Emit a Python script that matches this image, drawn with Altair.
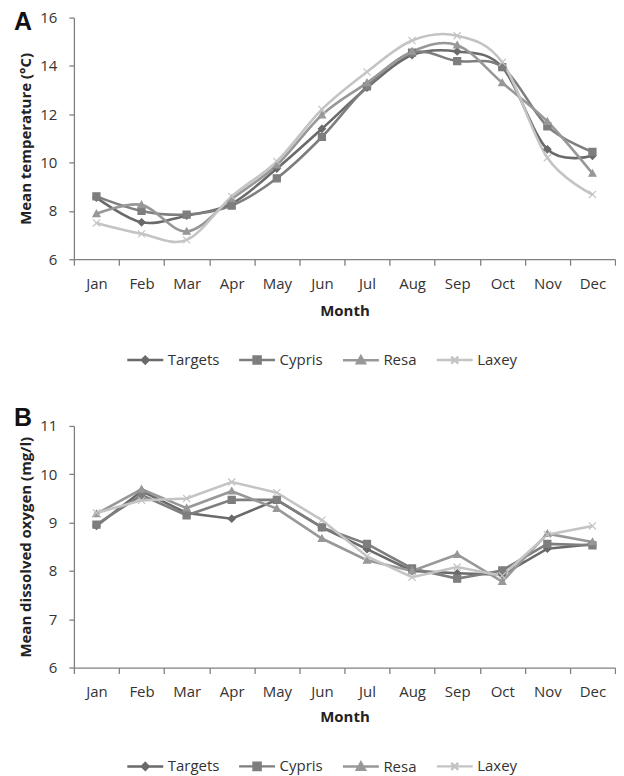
import altair as alt
import pandas as pd

months = ["Jan", "Feb", "Mar", "Apr", "May", "Jun", "Jul", "Aug", "Sep", "Oct", "Nov", "Dec"]
series = ["Targets", "Cypris", "Resa", "Laxey"]

# Panel A: mean temperature (°C)
temp_targets = [8.55, 7.53, 7.80, 8.30, 9.75, 11.40, 13.10, 14.45, 14.60, 13.95, 10.55, 10.28]
temp_cypris = [8.60, 8.00, 7.85, 8.22, 9.35, 11.06, 13.15, 14.55, 14.20, 13.95, 11.50, 10.44]
temp_resa = [7.88, 8.25, 7.15, 8.50, 9.90, 11.97, 13.30, 14.60, 14.86, 13.30, 11.70, 9.55]
temp_laxey = [7.50, 7.05, 6.80, 8.60, 10.05, 12.20, 13.75, 15.05, 15.25, 14.15, 10.20, 8.68]

# Panel B: mean dissolved oxygen (mg/l)
oxy_targets = [8.93, 9.65, 9.20, 9.08, 9.47, 8.90, 8.45, 8.00, 7.95, 7.92, 8.46, 8.55]
oxy_cypris = [8.96, 9.57, 9.15, 9.47, 9.47, 8.90, 8.56, 8.05, 7.84, 8.01, 8.56, 8.53]
oxy_resa = [9.18, 9.69, 9.30, 9.65, 9.29, 8.67, 8.22, 8.00, 8.34, 7.78, 8.77, 8.60]
oxy_laxey = [9.20, 9.46, 9.50, 9.84, 9.62, 9.05, 8.30, 7.87, 8.08, 7.90, 8.75, 8.93]

colors = ["#6a6a6a", "#7e7e7e", "#989898", "#c4c4c4"]
marker_paths = [
    "M0,-1L1,0L0,1L-1,0Z",
    "M-1,-1H1V1H-1Z",
    "M0,-1L1,0.8L-1,0.8Z",
    "M-1,-1L1,1M-1,1L1,-1",
]
legend_paths = [
    "M-2.25,0L2.25,0M0,-0.42L0.42,0L0,0.42L-0.42,0Z",
    "M-2.25,0L2.25,0M-0.44,-0.44H0.44V0.44H-0.44Z",
    "M-2.25,0L2.25,0M0,-0.5L0.5,0.38L-0.5,0.38Z",
    "M-2.25,0L2.25,0M-0.44,-0.44L0.44,0.44M-0.44,0.44L0.44,-0.44",
]

FONT = "Open Sans"
W, H = 542, 242


def make_df(vals):
    rows = []
    for s, v in zip(series, vals):
        for i, val in enumerate(v):
            rows.append({"series": s, "month": months[i], "idx": i, "value": val})
    return pd.DataFrame(rows)


label_arr = "[" + ",".join(f"'{m}'" for m in months) + ",'']"


def panel(df, letter, letter_y, ytitle, ydomain, yvalues, interp, legend_y, title_pad):
    x_enc = alt.X(
        "idx:Q",
        scale=alt.Scale(domain=[-0.5, 11.5], nice=False, zero=False),
        axis=alt.Axis(
            values=[i - 0.5 for i in range(13)],
            labelExpr=f"{label_arr}[round(datum.value + 0.5)]",
            labelOffset={"condition": {"test": "datum.value > 11", "value": 0}, "value": W / 24},
            labelOverlap=False,
            labelFlush=False,
            title="Month",
            grid=False,
            tickSize=6,
            labelPadding=11,
            titlePadding=title_pad,
        ),
    )
    y_enc = alt.Y(
        "value:Q",
        scale=alt.Scale(domain=ydomain, nice=False, zero=False),
        axis=alt.Axis(
            values=yvalues,
            title=ytitle,
            grid=False,
            tickSize=5,
            labelPadding=12,
            titlePadding=6,
        ),
    )
    base = alt.Chart(df).encode(x=x_enc, y=y_enc)
    cscale = alt.Scale(domain=series, range=colors)
    lines = base.mark_line(interpolate=interp, strokeWidth=2.6).encode(
        color=alt.Color("series:N", scale=cscale, legend=None),
        detail="series:N",
    )
    pts = base.mark_point(filled=True, size=50, strokeWidth=1.2, opacity=1).encode(
        fill=alt.Fill("series:N", scale=cscale, legend=None),
        stroke=alt.Stroke("series:N", scale=cscale, legend=None),
        shape=alt.Shape("series:N", scale=alt.Scale(domain=series, range=marker_paths), legend=None),
    )
    leg = alt.Legend(
        title=None,
        orient="none",
        legendX=62,
        legendY=legend_y,
        direction="horizontal",
        columns=4,
        symbolSize=256,
        symbolStrokeWidth=2.5,
        labelFont=FONT,
        labelFontSize=15,
        labelColor="#333333",
        labelOffset=13,
        columnPadding=14,
        padding=0,
    )
    dummy = base.transform_filter("false").mark_point(filled=True, opacity=1, strokeWidth=2.5).encode(
        fill=alt.Fill("series:N", scale=cscale, legend=leg),
        stroke=alt.Stroke("series:N", scale=cscale, legend=leg),
        shape=alt.Shape("series:N", scale=alt.Scale(domain=series, range=legend_paths), legend=leg),
    )
    letter_mark = alt.Chart(pd.DataFrame({"t": [letter]})).mark_text(
        font="Liberation Sans",
        fontSize=25,
        fontWeight="bold",
        color="#111111",
        align="left",
        baseline="alphabetic",
    ).encode(text="t:N", x=alt.value(-60), y=alt.value(letter_y))
    return (
        alt.layer(lines, pts, dummy, letter_mark)
        .resolve_scale(color="independent", fill="independent", stroke="independent", shape="independent")
        .properties(width=W, height=H)
    )


pa = panel(make_df([temp_targets, temp_cypris, temp_resa, temp_laxey]), "A", 12,
           "Mean temperature (°C)", [6, 16], [6, 8, 10, 12, 14, 16], "cardinal", 333, 12)
pb = panel(make_df([oxy_targets, oxy_cypris, oxy_resa, oxy_laxey]), "B", 0,
           "Mean dissolved oxygen (mg/l)", [6, 11], [6, 7, 8, 9, 10, 11], "linear", 331, 10)

chart = (
    alt.vconcat(pa, pb, spacing=37)
    .properties(padding={"left": 6, "top": 1, "right": 0, "bottom": 0})
    .configure_view(stroke=None)
    .configure_axis(
        labelFont=FONT,
        labelFontSize=15,
        labelColor="#333333",
        titleFont=FONT,
        titleFontSize=15,
        titleFontWeight="bold",
        titleColor="#222222",
        domainColor="#808080",
        tickColor="#808080",
        domainWidth=1.3,
        tickWidth=1.3,
    )
)

chart.save("out.html", embed_options={"renderer": "svg", "actions": False})
